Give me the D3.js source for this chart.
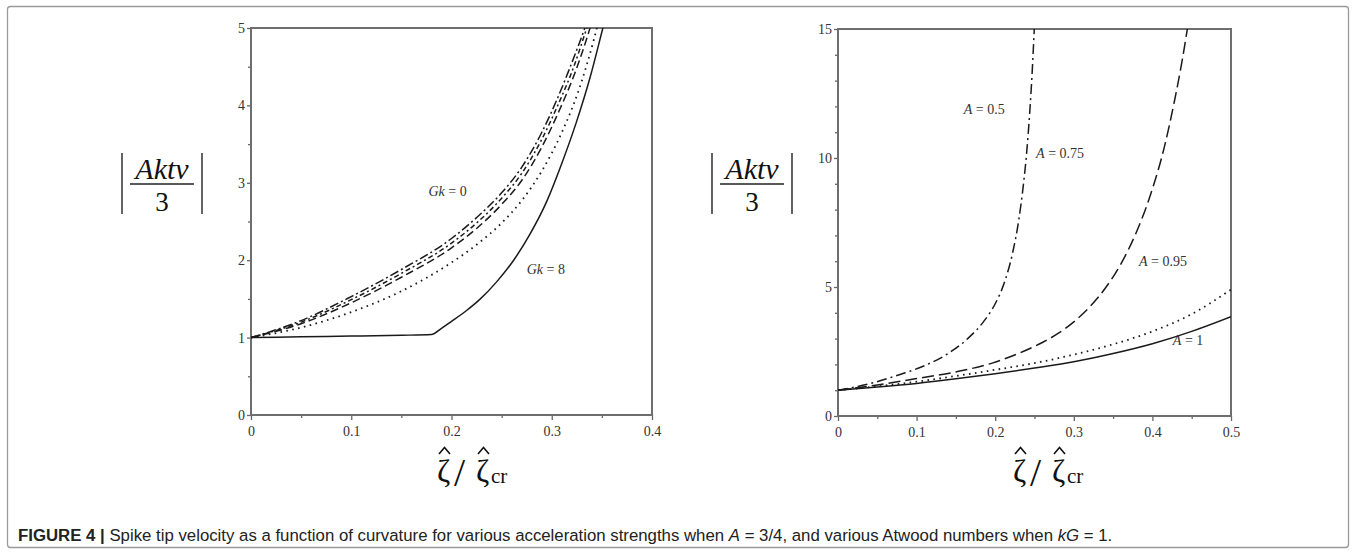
<!DOCTYPE html>
<html>
<head>
<meta charset="utf-8">
<script src="https://cdn.jsdelivr.net/npm/d3@7"></script>
<style>
  body { margin: 0; background: #fff; }
  svg { display: block; }
  .tick text { font-family: "Liberation Serif", "Times New Roman", serif; font-size: 14px; fill: #333; }
  .tick line { stroke: #666; stroke-width: 1.3; }
</style>
</head>
<body>
<svg id="fig" width="1356" height="554"></svg>
<script>
// ---- data ----
// left panel: A = 3/4, various Gk; [zeta/zeta_cr, |Aktv/3|]
const gk0 = [[0,1],[0.05,1.22],[0.1,1.53],[0.15,1.88],[0.2,2.28],[0.225,2.55],[0.25,2.87],[0.27,3.2],[0.29,3.65],[0.305,4.07],[0.32,4.55],[0.333,5.0],[0.337,5.15]];
const gk1 = [[0,1],[0.05,1.2],[0.1,1.49],[0.15,1.83],[0.2,2.22],[0.225,2.48],[0.25,2.8],[0.27,3.12],[0.29,3.56],[0.306,4.0],[0.322,4.5],[0.335,5.0],[0.339,5.15]];
const gk2 = [[0,1],[0.05,1.18],[0.1,1.45],[0.15,1.78],[0.2,2.16],[0.225,2.41],[0.25,2.72],[0.27,3.03],[0.29,3.46],[0.307,3.92],[0.324,4.45],[0.337,4.95],[0.341,5.12]];
const gk4 = [[0,1],[0.05,1.13],[0.1,1.33],[0.15,1.6],[0.2,1.97],[0.225,2.2],[0.25,2.48],[0.27,2.77],[0.29,3.15],[0.31,3.65],[0.327,4.2],[0.342,4.85],[0.347,5.1]];
const gk8 = [[0,1],[0.05,1.01],[0.1,1.02],[0.15,1.03],[0.18,1.04],[0.19,1.12],[0.2,1.21],[0.215,1.35],[0.228,1.49],[0.245,1.72],[0.262,2.0],[0.278,2.33],[0.295,2.76],[0.31,3.25],[0.325,3.8],[0.338,4.35],[0.351,5.0],[0.355,5.2]];

// right panel: kG = 1, various Atwood numbers
const a050 = [[0,1],[0.04,1.25],[0.08,1.62],[0.11,1.95],[0.14,2.42],[0.165,3.0],[0.185,3.65],[0.2,4.35],[0.212,5.2],[0.222,6.3],[0.23,7.6],[0.236,9.0],[0.24,10.2],[0.244,11.8],[0.247,13.3],[0.25,15.2]];
const a075 = [[0,1],[0.05,1.2],[0.1,1.45],[0.155,1.74],[0.197,2.06],[0.24,2.56],[0.26,2.85],[0.28,3.2],[0.3,3.65],[0.32,4.22],[0.34,4.95],[0.36,5.9],[0.38,7.15],[0.4,8.8],[0.415,10.4],[0.428,12.2],[0.438,13.8],[0.446,15.3]];
const a095 = [[0,1],[0.05,1.15],[0.1,1.33],[0.15,1.55],[0.2,1.79],[0.25,2.05],[0.3,2.38],[0.35,2.78],[0.4,3.28],[0.45,3.95],[0.5,4.9]];
const a100 = [[0,1],[0.05,1.12],[0.1,1.26],[0.15,1.44],[0.2,1.64],[0.25,1.86],[0.3,2.1],[0.35,2.42],[0.4,2.8],[0.45,3.28],[0.5,3.85]];

// ticks
const leftXTicks = [0, 0.1, 0.2, 0.3, 0.4];
const leftXMinor = [0.05, 0.15, 0.25, 0.35];
const leftYTicks = [0, 1, 2, 3, 4, 5];
const leftYMinor = [0.5, 1.5, 2.5, 3.5, 4.5];
const rightXTicks = [0, 0.1, 0.2, 0.3, 0.4, 0.5];
const rightXMinor = [0.05, 0.15, 0.25, 0.35, 0.45];
const rightYTicks = [0, 5, 10, 15];
const rightYMinor = [1, 2, 3, 4, 6, 7, 8, 9, 11, 12, 13, 14];

const svg = d3.select('#fig');
const serif = '"Liberation Serif", "Times New Roman", serif';

// outer frame
svg.append('rect')
    .attr('x', 7.5).attr('y', 6.5)
    .attr('width', 1341).attr('height', 541)
    .attr('rx', 3)
    .attr('fill', 'none')
    .attr('stroke', '#9a9a9a')
    .attr('stroke-width', 1.3);

function panel(p) {
    const x = d3.scaleLinear().domain(p.xDomain).range([p.left, p.right]);
    const y = d3.scaleLinear().domain(p.yDomain).range([p.bottom, p.top]);
    const g = svg.append('g');

    g.append('clipPath').attr('id', p.id + '-clip')
        .append('rect')
        .attr('x', p.left).attr('y', p.top)
        .attr('width', p.right - p.left).attr('height', p.bottom - p.top);

    // minor ticks
    g.append('g')
        .attr('transform', `translate(0,${p.bottom})`)
        .call(d3.axisBottom(x).tickValues(p.xMinor).tickSize(3).tickFormat(''))
        .call(a => a.select('.domain').remove());
    g.append('g')
        .attr('transform', `translate(${p.left},0)`)
        .call(d3.axisLeft(y).tickValues(p.yMinor).tickSize(3).tickFormat(''))
        .call(a => a.select('.domain').remove());

    // major ticks
    g.append('g')
        .attr('transform', `translate(0,${p.bottom})`)
        .call(d3.axisBottom(x).tickValues(p.xTicks).tickSize(5).tickPadding(6).tickFormat(d => String(d)))
        .call(a => a.select('.domain').remove());
    g.append('g')
        .attr('transform', `translate(${p.left},0)`)
        .call(d3.axisLeft(y).tickValues(p.yTicks).tickSize(4).tickPadding(2).tickFormat(d => String(d)))
        .call(a => a.select('.domain').remove());

    // plot box
    g.append('rect')
        .attr('x', p.left).attr('y', p.top)
        .attr('width', p.right - p.left).attr('height', p.bottom - p.top)
        .attr('fill', 'none')
        .attr('stroke', '#6e6e6e')
        .attr('stroke-width', 2);

    // curves
    const line = d3.line()
        .curve(d3.curveMonotoneX)
        .x(d => x(d[0]))
        .y(d => y(d[1]));
    const curves = g.append('g').attr('clip-path', `url(#${p.id}-clip)`);
    p.series.forEach(s => {
        curves.append('path')
            .datum(s.data)
            .attr('fill', 'none')
            .attr('stroke', '#1a1a1a')
            .attr('stroke-width', s.width || 1.5)
            .attr('stroke-dasharray', s.dash || null)
            .attr('d', line);
    });

    // curve labels
    p.labels.forEach(l => {
        const t = g.append('text')
            .attr('x', x(l.x)).attr('y', y(l.y))
            .attr('font-family', serif)
            .attr('font-size', 14)
            .attr('fill', '#333');
        l.parts.forEach(pt => {
            t.append('tspan').attr('font-style', pt[1] ? 'italic' : 'normal').text(pt[0]);
        });
    });

    // y label |Aktv/3|
    const ly = g.append('g').attr('transform', `translate(${p.ylabX},0)`);
    ly.append('line').attr('x1', 0).attr('x2', 0).attr('y1', 153).attr('y2', 214).attr('stroke', '#222').attr('stroke-width', 1.4);
    ly.append('line').attr('x1', 80).attr('x2', 80).attr('y1', 153).attr('y2', 214).attr('stroke', '#222').attr('stroke-width', 1.4);
    ly.append('text').attr('x', 40).attr('y', 179)
        .attr('text-anchor', 'middle')
        .attr('font-family', serif).attr('font-style', 'italic').attr('font-size', 30)
        .attr('fill', '#111').text('Aktv');
    ly.append('line').attr('x1', 8).attr('x2', 72).attr('y1', 184).attr('y2', 184).attr('stroke', '#222').attr('stroke-width', 1.3);
    ly.append('text').attr('x', 40).attr('y', 211)
        .attr('text-anchor', 'middle')
        .attr('font-family', serif).attr('font-size', 27)
        .attr('fill', '#111').text('3');

    // x label  ζ̂ / ζ̂cr  (hats drawn as small strokes)
    const lx = g.append('g').attr('transform', `translate(${p.xlabX},0)`);
    const z = (xx, txt, size, yy) => lx.append('text')
        .attr('x', xx).attr('y', yy)
        .attr('font-family', serif).attr('font-size', size)
        .attr('fill', '#111').text(txt);
    const hat = xx => lx.append('path')
        .attr('d', d3.line()([[xx + 2, 454], [xx + 7.5, 447.5], [xx + 13, 454]]))
        .attr('fill', 'none').attr('stroke', '#111').attr('stroke-width', 1.6);
    z(0, 'ζ', 32, 482);
    hat(0);
    z(17, '/', 40, 486);
    z(39, 'ζ', 32, 482);
    hat(39);
    z(54, 'cr', 21, 483);
}

panel({
    id: 'left',
    left: 251, right: 652, top: 28, bottom: 415,
    xDomain: [0, 0.4], yDomain: [0, 5],
    xTicks: leftXTicks, xMinor: leftXMinor,
    yTicks: leftYTicks, yMinor: leftYMinor,
    ylabX: 122, xlabX: 437,
    series: [
        { data: gk0, dash: '9,3,2,3' },
        { data: gk1, dash: '5,3,2,3' },
        { data: gk2, dash: '8,4' },
        { data: gk4, dash: '1.6,4.4', width: 1.8 },
        { data: gk8, dash: null }
    ],
    labels: [
        { x: 0.177, y: 2.83, parts: [['Gk', true], [' = 0', false]] },
        { x: 0.275, y: 1.82, parts: [['Gk', true], [' = 8', false]] }
    ]
});

panel({
    id: 'right',
    left: 838, right: 1231, top: 29, bottom: 416,
    xDomain: [0, 0.5], yDomain: [0, 15],
    xTicks: rightXTicks, xMinor: rightXMinor,
    yTicks: rightYTicks, yMinor: rightYMinor,
    ylabX: 712, xlabX: 1013,
    series: [
        { data: a050, dash: '10,4,2,4' },
        { data: a075, dash: '12,5' },
        { data: a095, dash: '1.6,4.4', width: 1.8 },
        { data: a100, dash: null }
    ],
    labels: [
        { x: 0.16, y: 11.7, parts: [['A', true], [' = 0.5', false]] },
        { x: 0.252, y: 10.0, parts: [['A', true], [' = 0.75', false]] },
        { x: 0.383, y: 5.8, parts: [['A', true], [' = 0.95', false]] },
        { x: 0.426, y: 2.75, parts: [['A', true], [' = 1', false]] }
    ]
});

// caption
const cap = svg.append('text')
    .attr('x', 18).attr('y', 541)
    .attr('font-family', '"Liberation Sans", Arial, sans-serif')
    .attr('font-size', 16.8)
    .attr('fill', '#222');
cap.append('tspan').attr('font-weight', 'bold').text('FIGURE 4 | ');
cap.append('tspan').text('Spike tip velocity as a function of curvature for various acceleration strengths when ');
cap.append('tspan').attr('font-style', 'italic').text('A');
cap.append('tspan').text(' = 3/4, and various Atwood numbers when ');
cap.append('tspan').attr('font-style', 'italic').text('kG');
cap.append('tspan').text(' = 1.');
</script>
</body>
</html>
